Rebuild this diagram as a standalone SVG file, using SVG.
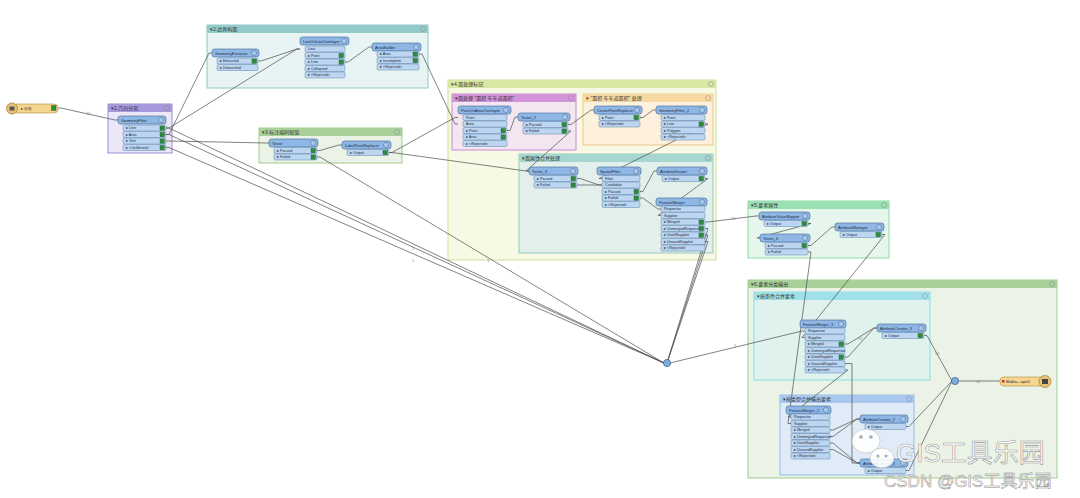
<svg xmlns="http://www.w3.org/2000/svg" width="1080" height="498" viewBox="0 0 1080 498">
<style>
text{font-family:"Liberation Sans","Noto Sans CJK SC",sans-serif}
.gh{font-size:5px;fill:#333}
.h{fill:#8fb7e6;stroke:#3f6490;stroke-width:.6}
.p{fill:#bcd6f2;stroke:#5c80ab;stroke-width:.5}
.ht{font-size:3.9px;fill:#1a2a40}
.pt{font-size:3.7px;fill:#1a2a40}
.ok{fill:#2f8c3c;stroke:#1d5a26;stroke-width:.4}
.ic{fill:#a9c7ea;stroke:#4a6a90;stroke-width:.5}
.c{fill:none;stroke:#4d4d4d;stroke-width:.7}
.cl{font-size:4px;fill:#888}
.gi{fill:none;stroke:#888;stroke-width:.5}
</style>
<rect width="1080" height="498" fill="#ffffff"/>

<!-- groups / bookmarks -->
<g id="g1">
<rect x="108" y="104" width="64" height="49" fill="#ebe7f7" stroke="#9f8ad6" stroke-width="1"/>
<rect x="108" y="104" width="64" height="8" fill="#a797dc"/>
<text class="gh" x="111" y="110">▾1.几何分离</text><circle class="gi" cx="167" cy="108" r="2.5"/>
</g>
<g id="g2">
<rect x="207" y="25" width="221" height="63" fill="#e8f3f3" stroke="#8fc6c4" stroke-width="1"/>
<rect x="207" y="25" width="221" height="8" fill="#93cbc8"/>
<text class="gh" x="210" y="31">▾2.边界构面</text><circle class="gi" cx="423" cy="29" r="2.5"/>
</g>
<g id="g3">
<rect x="259" y="128" width="143" height="35" fill="#eaf3e6" stroke="#9fcb8f" stroke-width="1"/>
<rect x="259" y="128" width="143" height="8" fill="#a8d098"/>
<text class="gh" x="262" y="134">▾3.标注编码赋值</text><circle class="gi" cx="397" cy="132" r="2.5"/>
</g>
<g id="g4">
<rect x="448" y="80" width="268" height="180" fill="#f7f9e4" stroke="#cfe19a" stroke-width="1"/>
<rect x="448" y="80" width="268" height="8" fill="#d8e8a2"/>
<text class="gh" x="451" y="86">▾4.面处理标记</text><circle class="gi" cx="711" cy="84" r="2.5"/>
<rect x="452" y="94" width="124" height="56" fill="#f3e6f1" stroke="#c98ad3" stroke-width="1"/>
<rect x="452" y="94" width="124" height="8" fill="#d394da"/>
<text class="gh" x="455" y="100">▾面处理 "面积 车车道面积"</text><circle class="gi" cx="571" cy="98" r="2.5"/>
<rect x="583" y="94" width="130" height="51" fill="#fdf1dd" stroke="#efc78a" stroke-width="1"/>
<rect x="583" y="94" width="130" height="8" fill="#f8d9a2"/>
<text class="gh" x="586" y="100">▾ "面积 车车道面积"      处理</text><circle class="gi" cx="708" cy="98" r="2.5"/>
<rect x="519" y="154" width="194" height="99" fill="#e3efea" stroke="#94cbc5" stroke-width="1"/>
<rect x="519" y="154" width="194" height="8" fill="#a6d6cf"/>
<text class="gh" x="522" y="160">▾面属性合并处理</text><circle class="gi" cx="708" cy="158" r="2.5"/>
</g>
<g id="g5">
<rect x="748" y="201" width="141" height="57" fill="#e6f6ec" stroke="#8fdaa8" stroke-width="1"/>
<rect x="748" y="201" width="141" height="8" fill="#9ae0b3"/>
<text class="gh" x="751" y="207">▾5.要素属性</text><circle class="gi" cx="884" cy="205" r="2.5"/>
</g>
<g id="g6">
<rect x="748" y="280" width="309" height="198" fill="#eaf3e6" stroke="#9fcb8f" stroke-width="1"/>
<rect x="748" y="280" width="309" height="8" fill="#a8d098"/>
<text class="gh" x="751" y="286">▾6.要素分类输出</text><circle class="gi" cx="1052" cy="284" r="2.5"/>
<rect x="754" y="292" width="176" height="88" fill="#e0f2ee" stroke="#8cdbe4" stroke-width="1"/>
<rect x="754" y="292" width="176" height="8" fill="#a0e1e9"/>
<text class="gh" x="757" y="298">▾按条件合并要素</text><circle class="gi" cx="925" cy="296" r="2.5"/>
<rect x="780" y="395" width="134" height="80" fill="#dfebf6" stroke="#93bbe8" stroke-width="1"/>
<rect x="780" y="395" width="134" height="8" fill="#a8c8f0"/>
<text class="gh" x="783" y="401">▾按类型合并输出要素</text><circle class="gi" cx="909" cy="399" r="2.5"/>
</g>

<!-- connectors -->
<g id="connectors">
<path class="c" d="M58 108 L61 108 L115 120 L118 120"/>
<path class="c" d="M166 128 L169 128 L297 49 L300 49"/>
<path class="c" d="M166 134.5 L169 134.5 L209 53 L212 53"/>
<path class="c" d="M258 61 L261 61 L297 49 L300 49"/>
<path class="c" d="M345 62 L348 62 L369 47 L372 47"/>
<path class="c" d="M419 54 L422 54 L455 124 L458 124"/>
<path class="c" d="M166 141 L169 141 L266 143 L269 143"/>
<path class="c" d="M317 150.5 L320 150.5 L339 145 L342 145"/>
<path class="c" d="M389 152.5 L392 152.5 L455 117.5 L458 117.5"/>
<path class="c" d="M389 152.5 L392 152.5 L526 171 L529 171"/>
<path class="c" d="M166 128 L169 128 L664 363"/>
<path class="c" d="M166 134.5 L169 134.5 L664 363"/>
<path class="c" d="M166 147.5 L169 147.5 L664 363"/>
<path class="c" d="M317 157 L320 157 L664 363"/>
<path class="c" d="M507 130.5 L510 130.5 L515 117 L518 117"/>
<path class="c" d="M568 124.5 L571 124.5 L591 110 L594 110"/>
<path class="c" d="M568 131 L571 131 L526 171 L529 171"/>
<path class="c" d="M640 117.5 L643 117.5 L653 110 L656 110"/>
<path class="c" d="M705 124 L708 124 L599 178.5 L602 178.5"/>
<path class="c" d="M577 178.5 L580 178.5 L599 185 L602 185"/>
<path class="c" d="M577 185 L580 185 L599 185 L602 185"/>
<path class="c" d="M640 191.5 L643 191.5 L654 171 L657 171"/>
<path class="c" d="M640 198 L643 198 L658 209 L661 209"/>
<path class="c" d="M705 178.5 L708 178.5 L658 215.5 L661 215.5"/>
<path class="c" d="M705 222 L708 222 L756 216 L759 216"/>
<path class="c" d="M705 228.5 L708 228.5 L667 363"/>
<path class="c" d="M705 235 L708 235 L667 363"/>
<path class="c" d="M705 241.5 L708 241.5 L667 363"/>
<path class="c" d="M808 223.5 L811 223.5 L757 238 L760 238"/>
<path class="c" d="M808 245.5 L811 245.5 L832 227 L835 227"/>
<path class="c" d="M882 234.5 L885 234.5 L802 337.5 L805 337.5"/>
<path class="c" d="M808 252 L811 252 L788 423.5 L791 423.5"/>
<path class="c" d="M670 363 L802 331 L805 331"/>
<path class="c" d="M845 344 L848 344 L874 328 L877 328"/>
<path class="c" d="M845 357 L848 357 L874 328 L877 328"/>
<path class="c" d="M845 363.5 L852 363.5 L852 463 L860 463"/>
<path class="c" d="M845 370 L848 370 L788 417 L791 417"/>
<path class="c" d="M830 430 L833 430 L857 419 L860 419"/>
<path class="c" d="M830 436.5 L833 436.5 L857 419 L860 419"/>
<path class="c" d="M830 443 L833 443 L857 463 L860 463"/>
<path class="c" d="M830 449.5 L833 449.5 L857 463 L860 463"/>
<path class="c" d="M924 335.5 L927 335.5 L952 381"/>
<path class="c" d="M906 426.5 L909 426.5 L952 381"/>
<path class="c" d="M906 470.5 L909 470.5 L952 381"/>
<path class="c" d="M958 381 L1000 381"/>
<text class="cl" x="86" y="115">10</text>
<text class="cl" x="412" y="250">1</text>
<text class="cl" x="412" y="262">1</text>
<text class="cl" x="487" y="262">1</text>
<text class="cl" x="734" y="347">1</text>
<text class="cl" x="731" y="220">14</text>
<text class="cl" x="858" y="340">52</text>
<text class="cl" x="935" y="355">52</text>
<text class="cl" x="976" y="383">52</text>
</g>

<!-- reader -->
<g id="reader">
<rect x="13" y="104" width="45" height="9" rx="4" fill="#f6d58e" stroke="#b08a40" stroke-width=".6"/>
<circle cx="12" cy="108.5" r="5.5" fill="#e8c272" stroke="#9a7a3a" stroke-width=".7"/>
<rect x="9.5" y="106.5" width="5" height="4" fill="#555"/>
<text class="ht" x="21" y="110.3">▸ 分析</text>
<rect class="ok" x="51.5" y="105.5" width="4.5" height="5"/>
</g>

<!-- transformers -->
<g id="GeometryFilter">
<rect class="h" x="118" y="116" width="48" height="8" rx="2.5"/><text class="ht" x="121" y="121.5">GeometryFilter</text><circle class="ic" cx="161" cy="120" r="2.6"/>
<rect class="p" x="123" y="125" width="43" height="6" rx="1.5"/><text class="pt" x="126" y="129.3">▸ Line</text><rect class="ok" x="160" y="126" width="4.5" height="4.2"/>
<rect class="p" x="123" y="131.5" width="43" height="6" rx="1.5"/><text class="pt" x="126" y="135.8">▸ Area</text><rect class="ok" x="160" y="132.5" width="4.5" height="4.2"/>
<rect class="p" x="123" y="138" width="43" height="6" rx="1.5"/><text class="pt" x="126" y="142.3">▸ Text</text><rect class="ok" x="160" y="139" width="4.5" height="4.2"/>
<rect class="p" x="123" y="144.5" width="43" height="6" rx="1.5"/><text class="pt" x="126" y="148.8">▸ &lt;Unfiltered&gt;</text><rect class="ok" x="160" y="145.5" width="4.5" height="4.2"/>
</g>

<g id="GeometryExtractor">
<rect class="h" x="212" y="49" width="47" height="8" rx="2.5"/><text class="ht" x="215" y="54.5">GeometryExtractor</text><circle class="ic" cx="254" cy="53" r="2.6"/>
<rect class="p" x="217" y="58" width="41" height="6" rx="1.5"/><text class="pt" x="220" y="62.3">▸ Extracted</text><rect class="ok" x="252" y="59" width="4.5" height="4.2"/>
<rect class="p" x="217" y="64.5" width="41" height="6" rx="1.5"/><text class="pt" x="220" y="68.8">▸ Untouched</text>
</g>

<g id="LineOnLineOverlayer">
<rect class="h" x="300" y="37" width="49" height="8" rx="2.5"/><text class="ht" x="303" y="42.5">LineOnLineOverlayer</text><circle class="ic" cx="344" cy="41" r="2.6"/>
<rect class="p" x="305" y="46" width="40" height="6" rx="1.5"/><text class="pt" x="308" y="50.3">Line</text>
<rect class="p" x="305" y="52.5" width="40" height="6" rx="1.5"/><text class="pt" x="308" y="56.8">▸ Point</text><rect class="ok" x="339" y="53.5" width="4.5" height="4.2"/>
<rect class="p" x="305" y="59" width="40" height="6" rx="1.5"/><text class="pt" x="308" y="63.3">▸ Line</text><rect class="ok" x="339" y="60" width="4.5" height="4.2"/>
<rect class="p" x="305" y="65.5" width="40" height="6" rx="1.5"/><text class="pt" x="308" y="69.8">▸ Collapsed</text>
<rect class="p" x="305" y="72" width="40" height="6" rx="1.5"/><text class="pt" x="308" y="76.3">▸ &lt;Rejected&gt;</text>
</g>

<g id="AreaBuilder">
<rect class="h" x="372" y="43" width="49" height="8" rx="2.5"/><text class="ht" x="375" y="48.5">AreaBuilder</text><circle class="ic" cx="416" cy="47" r="2.6"/>
<rect class="p" x="377" y="51" width="42" height="6" rx="1.5"/><text class="pt" x="380" y="55.3">▸ Area</text><rect class="ok" x="413" y="52" width="4.5" height="4.2"/>
<rect class="p" x="377" y="57.5" width="42" height="6" rx="1.5"/><text class="pt" x="380" y="61.8">▸ Incomplete</text><rect class="ok" x="413" y="58.5" width="4.5" height="4.2"/>
<rect class="p" x="377" y="64" width="42" height="6" rx="1.5"/><text class="pt" x="380" y="68.3">▸ &lt;Rejected&gt;</text>
</g>

<g id="Tester">
<rect class="h" x="269" y="139" width="49" height="8" rx="2.5"/><text class="ht" x="272" y="144.5">Tester</text><circle class="ic" cx="313" cy="143" r="2.6"/>
<rect class="p" x="274" y="147.5" width="43" height="6" rx="1.5"/><text class="pt" x="277" y="151.8">▸ Passed</text><rect class="ok" x="311" y="148.5" width="4.5" height="4.2"/>
<rect class="p" x="274" y="154" width="43" height="6" rx="1.5"/><text class="pt" x="277" y="158.3">▸ Failed</text><rect class="ok" x="311" y="155" width="4.5" height="4.2"/>
</g>

<g id="LabelPointReplacer">
<rect class="h" x="342" y="141" width="49" height="8" rx="2.5"/><text class="ht" x="345" y="146.5">LabelPointReplacer</text><circle class="ic" cx="386" cy="145" r="2.6"/>
<rect class="p" x="347" y="149.5" width="42" height="6" rx="1.5"/><text class="pt" x="350" y="153.8">▸ Output</text><rect class="ok" x="383" y="150.5" width="4.5" height="4.2"/>
</g>

<g id="PointOnAreaOverlayer">
<rect class="h" x="458" y="106" width="53" height="8" rx="2.5"/><text class="ht" x="461" y="111.5">PointOnAreaOverlayer</text><circle class="ic" cx="506" cy="110" r="2.6"/>
<rect class="p" x="463" y="114.5" width="44" height="6" rx="1.5"/><text class="pt" x="466" y="118.8">Point</text>
<rect class="p" x="463" y="121" width="44" height="6" rx="1.5"/><text class="pt" x="466" y="125.3">Area</text>
<rect class="p" x="463" y="127.5" width="44" height="6" rx="1.5"/><text class="pt" x="466" y="131.8">▸ Point</text><rect class="ok" x="501" y="128.5" width="4.5" height="4.2"/>
<rect class="p" x="463" y="134" width="44" height="6" rx="1.5"/><text class="pt" x="466" y="138.3">▸ Area</text><rect class="ok" x="501" y="135" width="4.5" height="4.2"/>
<rect class="p" x="463" y="140.5" width="44" height="6" rx="1.5"/><text class="pt" x="466" y="144.8">▸ &lt;Rejected&gt;</text>
</g>

<g id="Tester_2">
<rect class="h" x="518" y="113" width="52" height="8" rx="2.5"/><text class="ht" x="521" y="118.5">Tester_2</text><circle class="ic" cx="565" cy="117" r="2.6"/>
<rect class="p" x="523" y="121.5" width="45" height="6" rx="1.5"/><text class="pt" x="526" y="125.8">▸ Passed</text><rect class="ok" x="562" y="122.5" width="4.5" height="4.2"/>
<rect class="p" x="523" y="128" width="45" height="6" rx="1.5"/><text class="pt" x="526" y="132.3">▸ Failed</text><rect class="ok" x="562" y="129" width="4.5" height="4.2"/>
</g>

<g id="CenterPointReplacer">
<rect class="h" x="594" y="106" width="48" height="8" rx="2.5"/><text class="ht" x="597" y="111.5">CenterPointReplacer</text><circle class="ic" cx="637" cy="110" r="2.6"/>
<rect class="p" x="599" y="114.5" width="41" height="6" rx="1.5"/><text class="pt" x="602" y="118.8">▸ Point</text><rect class="ok" x="634" y="115.5" width="4.5" height="4.2"/>
<rect class="p" x="599" y="121" width="41" height="6" rx="1.5"/><text class="pt" x="602" y="125.3">▸ &lt;Rejected&gt;</text>
</g>

<g id="GeometryFilter_2">
<rect class="h" x="656" y="106" width="51" height="8" rx="2.5"/><text class="ht" x="659" y="111.5">GeometryFilter_2</text><circle class="ic" cx="702" cy="110" r="2.6"/>
<rect class="p" x="661" y="114.5" width="44" height="6" rx="1.5"/><text class="pt" x="664" y="118.8">▸ Point</text>
<rect class="p" x="661" y="121" width="44" height="6" rx="1.5"/><text class="pt" x="664" y="125.3">▸ Line</text><rect class="ok" x="699" y="122" width="4.5" height="4.2"/>
<rect class="p" x="661" y="127.5" width="44" height="6" rx="1.5"/><text class="pt" x="664" y="131.8">▸ Polygon</text>
<rect class="p" x="661" y="134" width="44" height="6" rx="1.5"/><text class="pt" x="664" y="138.3">▸ &lt;Rejected&gt;</text>
</g>

<g id="Tester_3">
<rect class="h" x="529" y="167" width="49" height="8" rx="2.5"/><text class="ht" x="532" y="172.5">Tester_3</text><circle class="ic" cx="573" cy="171" r="2.6"/>
<rect class="p" x="534" y="175.5" width="43" height="6" rx="1.5"/><text class="pt" x="537" y="179.8">▸ Passed</text><rect class="ok" x="571" y="176.5" width="4.5" height="4.2"/>
<rect class="p" x="534" y="182" width="43" height="6" rx="1.5"/><text class="pt" x="537" y="186.3">▸ Failed</text><rect class="ok" x="571" y="183" width="4.5" height="4.2"/>
</g>

<g id="SpatialFilter">
<rect class="h" x="597" y="167" width="44" height="8" rx="2.5"/><text class="ht" x="600" y="172.5">SpatialFilter</text><circle class="ic" cx="636" cy="171" r="2.6"/>
<rect class="p" x="602" y="175.5" width="38" height="6" rx="1.5"/><text class="pt" x="605" y="179.8">Filter</text>
<rect class="p" x="602" y="182" width="38" height="6" rx="1.5"/><text class="pt" x="605" y="186.3">Candidate</text>
<rect class="p" x="602" y="188.5" width="38" height="6" rx="1.5"/><text class="pt" x="605" y="192.8">▸ Passed</text><rect class="ok" x="634" y="189.5" width="4.5" height="4.2"/>
<rect class="p" x="602" y="195" width="38" height="6" rx="1.5"/><text class="pt" x="605" y="199.3">▸ Failed</text><rect class="ok" x="634" y="196" width="4.5" height="4.2"/>
<rect class="p" x="602" y="201.5" width="38" height="6" rx="1.5"/><text class="pt" x="605" y="205.8">▸ &lt;Rejected&gt;</text>
</g>

<g id="AttributeKeeper">
<rect class="h" x="657" y="167" width="50" height="8" rx="2.5"/><text class="ht" x="660" y="172.5">AttributeKeeper</text><circle class="ic" cx="702" cy="171" r="2.6"/>
<rect class="p" x="662" y="175.5" width="43" height="6" rx="1.5"/><text class="pt" x="665" y="179.8">▸ Output</text><rect class="ok" x="699" y="176.5" width="4.5" height="4.2"/>
</g>

<g id="FeatureMerger">
<rect class="h" x="656" y="198" width="51" height="8" rx="2.5"/><text class="ht" x="659" y="203.5">FeatureMerger</text><circle class="ic" cx="702" cy="202" r="2.6"/>
<rect class="p" x="661" y="206" width="44" height="6" rx="1.5"/><text class="pt" x="664" y="210.3">Requestor</text>
<rect class="p" x="661" y="212.5" width="44" height="6" rx="1.5"/><text class="pt" x="664" y="216.8">Supplier</text>
<rect class="p" x="661" y="219" width="44" height="6" rx="1.5"/><text class="pt" x="664" y="223.3">▸ Merged</text><rect class="ok" x="699" y="220" width="4.5" height="4.2"/>
<rect class="p" x="661" y="225.5" width="44" height="6" rx="1.5"/><text class="pt" x="664" y="229.8">▸ UnmergedRequestor</text><rect class="ok" x="699" y="226.5" width="4.5" height="4.2"/>
<rect class="p" x="661" y="232" width="44" height="6" rx="1.5"/><text class="pt" x="664" y="236.3">▸ UsedSupplier</text><rect class="ok" x="699" y="233" width="4.5" height="4.2"/>
<rect class="p" x="661" y="238.5" width="44" height="6" rx="1.5"/><text class="pt" x="664" y="242.8">▸ UnusedSupplier</text>
<rect class="p" x="661" y="245" width="44" height="6" rx="1.5"/><text class="pt" x="664" y="249.3">▸ &lt;Rejected&gt;</text>
</g>

<g id="AttributeValueMapper">
<rect class="h" x="759" y="212" width="51" height="8" rx="2.5"/><text class="ht" x="762" y="217.5">AttributeValueMapper</text><circle class="ic" cx="805" cy="216" r="2.6"/>
<rect class="p" x="764" y="220.5" width="44" height="6" rx="1.5"/><text class="pt" x="767" y="224.8">▸ Output</text><rect class="ok" x="802" y="221.5" width="4.5" height="4.2"/>
</g>

<g id="Tester_4">
<rect class="h" x="760" y="234" width="50" height="8" rx="2.5"/><text class="ht" x="763" y="239.5">Tester_4</text><circle class="ic" cx="805" cy="238" r="2.6"/>
<rect class="p" x="765" y="242.5" width="43" height="6" rx="1.5"/><text class="pt" x="768" y="246.8">▸ Passed</text><rect class="ok" x="802" y="243.5" width="4.5" height="4.2"/>
<rect class="p" x="765" y="249" width="43" height="6" rx="1.5"/><text class="pt" x="768" y="253.3">▸ Failed</text>
</g>

<g id="AttributeManager">
<rect class="h" x="835" y="223" width="49" height="8" rx="2.5"/><text class="ht" x="838" y="228.5">AttributeManager</text><circle class="ic" cx="879" cy="227" r="2.6"/>
<rect class="p" x="840" y="231.5" width="42" height="6" rx="1.5"/><text class="pt" x="843" y="235.8">▸ Output</text><rect class="ok" x="876" y="232.5" width="4.5" height="4.2"/>
</g>

<g id="FeatureMerger_3">
<rect class="h" x="800" y="320" width="46" height="8" rx="2.5"/><text class="ht" x="803" y="325.5">FeatureMerger_3</text><circle class="ic" cx="841" cy="324" r="2.6"/>
<rect class="p" x="805" y="328" width="40" height="6" rx="1.5"/><text class="pt" x="808" y="332.3">Requestor</text>
<rect class="p" x="805" y="334.5" width="40" height="6" rx="1.5"/><text class="pt" x="808" y="338.8">Supplier</text>
<rect class="p" x="805" y="341" width="40" height="6" rx="1.5"/><text class="pt" x="808" y="345.3">▸ Merged</text><rect class="ok" x="839" y="342" width="4.5" height="4.2"/>
<rect class="p" x="805" y="347.5" width="40" height="6" rx="1.5"/><text class="pt" x="808" y="351.8">▸ UnmergedRequestor</text>
<rect class="p" x="805" y="354" width="40" height="6" rx="1.5"/><text class="pt" x="808" y="358.3">▸ UsedSupplier</text><rect class="ok" x="839" y="355" width="4.5" height="4.2"/>
<rect class="p" x="805" y="360.5" width="40" height="6" rx="1.5"/><text class="pt" x="808" y="364.8">▸ UnusedSupplier</text>
<rect class="p" x="805" y="367" width="40" height="6" rx="1.5"/><text class="pt" x="808" y="371.3">▸ &lt;Rejected&gt;</text>
</g>

<g id="AttributeCreator_3">
<rect class="h" x="877" y="324" width="49" height="8" rx="2.5"/><text class="ht" x="880" y="329.5">AttributeCreator_3</text><circle class="ic" cx="921" cy="328" r="2.6"/>
<rect class="p" x="882" y="332.5" width="42" height="6" rx="1.5"/><text class="pt" x="885" y="336.8">▸ Output</text><rect class="ok" x="918" y="333.5" width="4.5" height="4.2"/>
</g>

<g id="FeatureMerger_2">
<rect class="h" x="786" y="406" width="45" height="8" rx="2.5"/><text class="ht" x="789" y="411.5">FeatureMerger_2</text><circle class="ic" cx="826" cy="410" r="2.6"/>
<rect class="p" x="791" y="414" width="39" height="6" rx="1.5"/><text class="pt" x="794" y="418.3">Requestor</text>
<rect class="p" x="791" y="420.5" width="39" height="6" rx="1.5"/><text class="pt" x="794" y="424.8">Supplier</text>
<rect class="p" x="791" y="427" width="39" height="6" rx="1.5"/><text class="pt" x="794" y="431.3">▸ Merged</text>
<rect class="p" x="791" y="433.5" width="39" height="6" rx="1.5"/><text class="pt" x="794" y="437.8">▸ UnmergedRequestor</text>
<rect class="p" x="791" y="440" width="39" height="6" rx="1.5"/><text class="pt" x="794" y="444.3">▸ UsedSupplier</text>
<rect class="p" x="791" y="446.5" width="39" height="6" rx="1.5"/><text class="pt" x="794" y="450.8">▸ UnusedSupplier</text>
<rect class="p" x="791" y="453" width="39" height="6" rx="1.5"/><text class="pt" x="794" y="457.3">▸ &lt;Rejected&gt;</text>
</g>

<g id="AttributeCreator_2">
<rect class="h" x="860" y="415" width="48" height="8" rx="2.5"/><text class="ht" x="863" y="420.5">AttributeCreator_2</text><circle class="ic" cx="903" cy="419" r="2.6"/>
<rect class="p" x="865" y="423.5" width="41" height="6" rx="1.5"/><text class="pt" x="868" y="427.8">▸ Output</text>
</g>

<g id="AttributeCreator_4">
<rect class="h" x="860" y="459" width="48" height="8" rx="2.5"/><text class="ht" x="863" y="464.5">AttributeCreator_4</text><circle class="ic" cx="903" cy="463" r="2.6"/>
<rect class="p" x="865" y="467.5" width="41" height="6" rx="1.5"/><text class="pt" x="868" y="471.8">▸ Output</text>
</g>

<g id="junction1"><circle cx="667" cy="363" r="3.6" fill="#7aaee2" stroke="#36587e" stroke-width=".7"/></g>
<g id="junction2"><circle cx="955" cy="381" r="3.6" fill="#7aaee2" stroke="#36587e" stroke-width=".7"/></g>

<g id="writer">
<rect x="1000" y="377" width="50" height="9" rx="4" fill="#f6d58e" stroke="#b08a40" stroke-width=".6"/>
<rect x="1002" y="380" width="2.5" height="2.5" fill="#c03030"/>
<text class="ht" x="1006" y="383">Blabla—xpet1</text>
<circle cx="1045" cy="381.5" r="6" fill="#e8c272" stroke="#9a7a3a" stroke-width=".7"/>
<rect x="1042" y="379" width="6" height="5" fill="#444"/>
</g>

<!-- watermark -->
<g id="watermark">
<ellipse cx="866" cy="441" rx="14" ry="12" fill="#ffffff" fill-opacity=".9" stroke="#bbbbbb" stroke-width=".6"/>
<circle cx="861" cy="437" r="1.8" fill="#aaa"/><circle cx="871" cy="437" r="1.8" fill="#aaa"/>
<ellipse cx="882" cy="458" rx="12" ry="10" fill="#ffffff" fill-opacity=".9" stroke="#bbbbbb" stroke-width=".6"/>
<circle cx="878" cy="456" r="1.5" fill="#aaa"/><circle cx="886" cy="456" r="1.5" fill="#aaa"/>
<text x="896" y="462" font-size="26" fill="#ffffff" stroke="#9a9a9a" stroke-width=".6" style="font-family:'Liberation Sans','Noto Sans CJK SC',sans-serif">GIS工具乐园</text>
<text x="884" y="487" font-size="17" fill="#ffffff" stroke="#8a8a8a" stroke-width=".5" style="font-family:'Liberation Sans','Noto Sans CJK SC',sans-serif">CSDN @GIS工具乐园</text>
</g>
</svg>
